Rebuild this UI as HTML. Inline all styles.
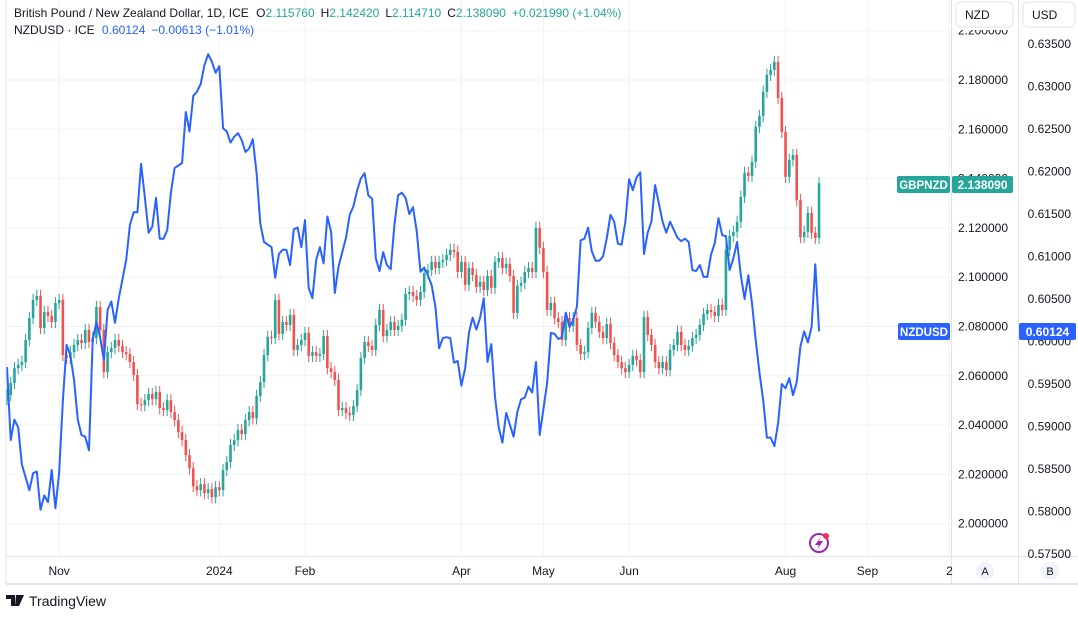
<!DOCTYPE html>
<html><head><meta charset="utf-8">
<style>
body{margin:0;width:1078px;height:612px;background:#fff;overflow:hidden;font-family:"Liberation Sans",sans-serif;}
svg text{font-family:"Liberation Sans",sans-serif;}
</style></head>
<body>
<svg id="chart" width="1078" height="612">
  <rect x="0" y="0" width="1078" height="612" fill="#fff"/>
  <g id="grid"></g>
  <g id="candles"></g>
  <path id="nzdline" fill="none" stroke="#2962ff" stroke-width="2" stroke-linejoin="round"/>
  <line x1="6" y1="0" x2="6" y2="584" stroke="#e0e3eb"/>
  <line x1="6" y1="556.5" x2="1078" y2="556.5" stroke="#e0e3eb"/>
  <line x1="6" y1="584" x2="1078" y2="584" stroke="#e0e3eb" stroke-width="2"/>
  <line x1="951.5" y1="0" x2="951.5" y2="584" stroke="#e0e3eb"/>
  <line x1="1018.5" y1="0" x2="1018.5" y2="584" stroke="#e0e3eb"/>
  <g id="nzdAxis"></g>
  <g id="usdAxis"></g>
  <g id="timeAxis"></g>
  <rect x="952" y="0" width="66" height="30" fill="#fff"/>
  <rect x="956" y="2" width="57" height="25" rx="5" fill="#fff" stroke="#e0e3eb"/>
  <text x="965" y="19" font-size="12" fill="#131722">NZD</text>
  <rect x="1023" y="2" width="52" height="25" rx="5" fill="#fff" stroke="#e0e3eb"/>
  <text x="1032" y="19" font-size="12" fill="#131722">USD</text>
  <text x="14" y="17" font-size="12" fill="#131722">British Pound / New Zealand Dollar, 1D, ICE <tspan dx="4">O</tspan><tspan fill="#26a69a">2.115760</tspan><tspan dx="6">H</tspan><tspan fill="#26a69a">2.142420</tspan><tspan dx="6">L</tspan><tspan fill="#26a69a">2.114710</tspan><tspan dx="6">C</tspan><tspan fill="#26a69a">2.138090</tspan><tspan dx="6" fill="#26a69a">+0.021990 (+1.04%)</tspan></text>
  <text x="14" y="34" font-size="12" fill="#131722">NZDUSD · ICE <tspan dx="4" fill="#2962ff">0.60124</tspan><tspan dx="6" fill="#2962ff">−0.00613 (−1.01%)</tspan></text>
  <g>
    <rect x="897" y="176" width="53" height="17" rx="2" fill="#26a69a"/>
    <text x="923.5" y="189" font-size="11.5" font-weight="bold" fill="#fff" text-anchor="middle">GBPNZD</text>
    <rect x="952" y="176" width="61" height="17" rx="2" fill="#26a69a"/>
    <text x="982.5" y="189" font-size="12" font-weight="bold" fill="#fff" text-anchor="middle">2.138090</text>
  </g>
  <g>
    <rect x="898" y="323" width="52" height="17" rx="2" fill="#2962ff"/>
    <text x="924" y="336" font-size="11.5" font-weight="bold" fill="#fff" text-anchor="middle">NZDUSD</text>
    <rect x="1019" y="323" width="57" height="17" rx="2" fill="#2962ff"/>
    <text x="1047.5" y="336" font-size="12" font-weight="bold" fill="#fff" text-anchor="middle">0.60124</text>
  </g>
  <g>
    <circle cx="819" cy="543" r="9" fill="none" stroke="#9c27b0" stroke-width="2"/>
    <path d="M821 537 L815 545 L819 545 L817 550 L823 541 L819 541 Z" fill="#9c27b0"/>
    <circle cx="826" cy="536" r="3" fill="#f23645"/>
  </g>
  <circle cx="985" cy="571" r="9" fill="#f0f3fa"/>
  <text x="985" y="575" font-size="11" fill="#131722" text-anchor="middle">A</text>
  <circle cx="1050" cy="571" r="9" fill="#f0f3fa"/>
  <text x="1050" y="575" font-size="11" fill="#131722" text-anchor="middle">B</text>
  <g>
    <path d="M6 595 H15 V606 H11 V599 H6 Z M16 595 H24 L19 606 H15 Z" fill="#131722"/>
    <text x="29" y="606" font-size="14" fill="#131722">TradingView</text>
  </g>
</svg>
<script>
const closes = [
2.0522,2.0571,2.0631,2.0644,2.0656,2.0745,2.0834,2.0908,2.0924,2.0794,
2.0859,2.0843,2.0818,2.0895,2.0908,2.0684,2.0672,2.0696,2.0725,2.0745,
2.0733,2.0786,2.0737,2.0753,2.0879,2.0786,2.0615,2.0696,2.0713,2.0745,
2.0721,2.0696,2.0688,2.0656,2.0603,2.0485,2.0481,2.0501,2.0526,2.0505,
2.0534,2.0469,2.0461,2.0501,2.0453,2.0420,2.0372,2.0339,2.0278,2.0225,
2.0152,2.0136,2.0160,2.0124,2.0140,2.0108,2.0148,2.0136,2.0218,2.0250,
2.0319,2.0339,2.0380,2.0364,2.0420,2.0453,2.0428,2.0518,2.0575,2.0684,
2.0758,2.0753,2.0908,2.0770,2.0818,2.0806,2.0847,2.0705,2.0725,2.0745,
2.0774,2.0681,2.0696,2.0681,2.0688,2.0761,2.0631,2.0615,2.0583,2.0461,
2.0469,2.0449,2.0441,2.0477,2.0542,2.0672,2.0737,2.0721,2.0705,2.0806,
2.0867,2.0761,2.0786,2.0818,2.0786,2.0802,2.0827,2.0932,2.0940,2.0924,
2.0908,2.0940,2.1017,2.1029,2.1062,2.1037,2.1062,2.1070,2.1090,2.1111,
2.1103,2.1021,2.1062,2.0969,2.1037,2.1009,2.0961,2.0981,2.0948,2.1005,
2.0957,2.1062,2.1078,2.1037,2.1054,2.1005,2.0855,2.0965,2.0977,2.1021,
2.1037,2.1021,2.1200,2.1119,2.1021,2.0867,2.0896,2.0834,2.0818,2.0745,
2.0834,2.0802,2.0834,2.0725,2.0688,2.0696,2.0794,2.0855,2.0818,2.0778,
2.0753,2.0810,2.0733,2.0684,2.0656,2.0631,2.0615,2.0644,2.0681,2.0664,
2.0615,2.0839,2.0766,2.0725,2.0656,2.0631,2.0656,2.0623,2.0705,2.0725,
2.0778,2.0725,2.0705,2.0721,2.0753,2.0766,2.0806,2.0851,2.0867,2.0859,
2.0843,2.0888,2.0867,2.1111,2.1168,2.1184,2.1225,2.1326,2.1424,2.1411,
2.1468,2.1610,2.1654,2.1752,2.1821,2.1841,2.1873,2.1727,2.1589,2.1407,
2.1476,2.1496,2.1313,2.1163,2.1184,2.1261,2.1180,2.1159,2.1381];
const firstOpen = 2.0505;
const nzdBars = [0,1,2,3,4,6,7,8,9,10,11,12,13,14,15,16,17,18,19,20,21,22,23,24,25,26,27,28,29,30,32,33,34,35,36,37,38,39,40,41,42,43,44,45,47,48,49,50,51,52,53,54,55,56,57,58,59,60,61,62,63,64,65,66,67,68,69,71,72,73,74,75,76,77,78,79,80,81,82,83,84,85,86,87,88,89,91,92,93,94,95,96,97,98,99,100,101,102,103,104,105,106,107,108,109,110,111,112,113,114,115,116,117,118,119,120,121,122,123,124,125,126,127,128,129,130,131,132,133,134,136,137,138,139,140,141,142,143,145,146,147,148,149,150,151,152,153,154,155,156,157,158,159,160,161,162,163,164,165,166,167,168,169,170,171,172,173,174,176,177,178,180,181,182,183,184,185,186,187,188,189,190,191,192,193,194,195,196,197,198,199,200,201,202,203,204,205,206,207,208,209,210,211,212,213,214,215,216,217,218];
const nzdValues = [0.5970,0.5884,0.5908,0.5899,0.5855,0.5825,0.5845,0.5847,0.5802,0.5819,0.5811,0.5849,0.5804,0.5845,0.5931,0.5996,0.5984,0.5955,0.5908,0.5890,0.5888,0.5872,0.6002,0.6023,0.6005,0.5978,0.6037,0.6047,0.6022,0.6051,0.6096,0.6137,0.6152,0.6152,0.6209,0.6170,0.6128,0.6135,0.6169,0.6121,0.6121,0.6131,0.6175,0.6204,0.6210,0.6270,0.6247,0.6289,0.6294,0.6303,0.6325,0.6338,0.6329,0.6316,0.6324,0.6251,0.6247,0.6234,0.6241,0.6245,0.6237,0.6223,0.6227,0.6238,0.6198,0.6139,0.6117,0.6111,0.6075,0.6103,0.6108,0.6108,0.6090,0.6132,0.6134,0.6111,0.6143,0.6063,0.6051,0.6096,0.6111,0.6092,0.6147,0.6129,0.6057,0.6088,0.6122,0.6149,0.6159,0.6178,0.6192,0.6198,0.6172,0.6168,0.6098,0.6083,0.6105,0.6090,0.6085,0.6137,0.6172,0.6175,0.6169,0.6150,0.6158,0.6129,0.6082,0.6087,0.6078,0.6066,0.6041,0.5992,0.6004,0.6005,0.6004,0.5975,0.5977,0.5948,0.5969,0.6010,0.6028,0.6014,0.6028,0.6051,0.5976,0.5997,0.5935,0.5899,0.5881,0.5916,0.5888,0.5917,0.5932,0.5934,0.5947,0.5940,0.5976,0.5890,0.5951,0.6010,0.6009,0.6003,0.6005,0.6034,0.6017,0.6025,0.6041,0.6119,0.6121,0.6134,0.6106,0.6095,0.6095,0.6100,0.6121,0.6149,0.6141,0.6115,0.6114,0.6141,0.6191,0.6178,0.6193,0.6199,0.6103,0.6128,0.6141,0.6184,0.6141,0.6128,0.6141,0.6122,0.6118,0.6121,0.6117,0.6084,0.6083,0.6090,0.6076,0.6076,0.6102,0.6116,0.6145,0.6125,0.6124,0.6084,0.6098,0.6117,0.6078,0.6050,0.6078,0.6045,0.6002,0.5963,0.5931,0.5887,0.5887,0.5877,0.5904,0.5950,0.5945,0.5957,0.5937,0.5952,0.5994,0.6012,0.5999,0.6017,0.6091,0.6012];
const nzdTicks = ["2.200000","2.180000","2.160000","2.140000","2.120000","2.100000","2.080000","2.060000","2.040000","2.020000","2.000000"];
const usdTicks = ["0.63500","0.63000","0.62500","0.62000","0.61500","0.61000","0.60500","0.60000","0.59500","0.59000","0.58500","0.58000","0.57500"];
const monthLabels = ["Nov","2024","Feb","Apr","May","Jun","Aug","Sep","2"];
const monthBars = [14,57,80,122,144,167,209,231,253];

const NS = "http://www.w3.org/2000/svg";
const xOf = i => 7 + i * 3.725;
const yN = v => 80 + (2.18 - v) * 2465;
const yU = u => 44 + (0.635 - u) * 8500;
function mk(tag, attrs, parent){const e=document.createElementNS(NS,tag);for(const k in attrs)e.setAttribute(k,attrs[k]);parent.appendChild(e);return e;}

const grid = document.getElementById('grid');
nzdTicks.forEach(t => {
  const y = yN(parseFloat(t));
  const l = mk('line',{x1:6,x2:951,y1:y,y2:y,stroke:'#f0f2f5'},grid);
  
  
  const tx = mk('text',{x:1008,y:y+4,'font-size':12,fill:'#131722','text-anchor':'end'},document.getElementById('nzdAxis'));
  tx.textContent = t;
  
  
});
usdTicks.forEach(t => {
  const y = yU(parseFloat(t));
  const tx = mk('text',{x:1071,y:y+4,'font-size':12,fill:'#131722','text-anchor':'end'},document.getElementById('usdAxis'));
  tx.textContent = t;
  
  
});
monthLabels.forEach((m,k) => {
  const x = xOf(monthBars[k]);
  if (x < 951) {
    const l = mk('line',{x1:x,x2:x,y1:0,y2:556,stroke:'#f0f2f5'},grid);
    
    
  }
  const tx = mk('text',{x:x,y:575,'font-size':12,fill:'#131722','text-anchor':'middle'},document.getElementById('timeAxis'));
  tx.textContent = m;
  
  
});

const cg = document.getElementById('candles');
closes.forEach((c,i) => {
  const o = i === 0 ? firstOpen : closes[i-1];
  const up = c >= o;
  const col = up ? '#26a69a' : '#ef5350';
  const hi = Math.max(o,c) + 0.0025, lo = Math.min(o,c) - 0.0025;
  const x = xOf(i);
  const w = mk('line',{x1:x,x2:x,y1:yN(hi),y2:yN(lo),stroke:col,'stroke-width':1},cg);
  
  
  const yt = yN(Math.max(o,c)), yb = yN(Math.min(o,c));
  const b = mk('rect',{x:x-1.3,y:yt,width:2.6,height:Math.max(1,yb-yt),fill:col},cg);
  
  
});

let d = '';
nzdValues.forEach((v,k) => { d += (k ? 'L' : 'M') + xOf(nzdBars[k]).toFixed(1) + ' ' + yU(v).toFixed(1) + ' '; });
document.getElementById('nzdline').setAttribute('d', d);
</script>
</body></html>
